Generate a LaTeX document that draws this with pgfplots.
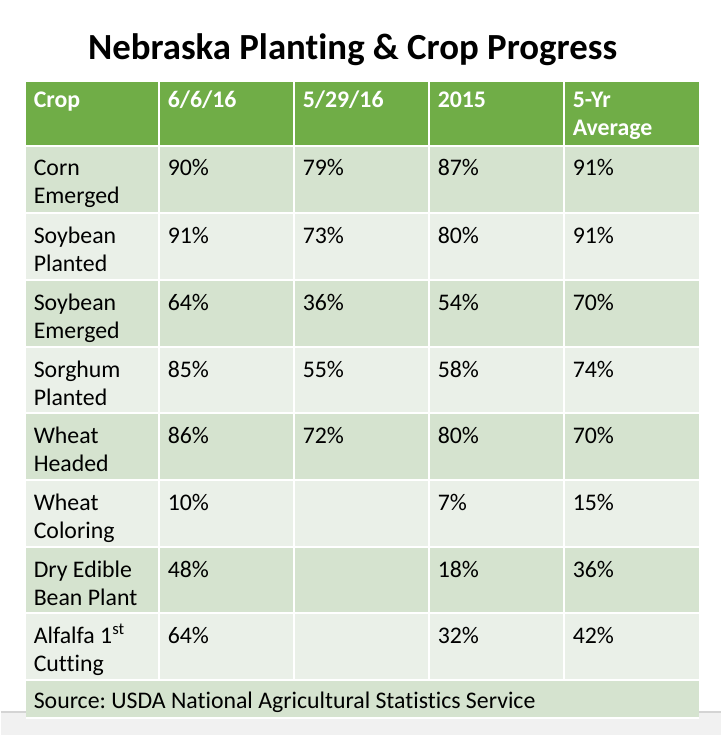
\documentclass[border=0pt]{standalone}
\usepackage{pgfplots}
\pgfplotsset{compat=1.18}
\usepackage{fontspec}
\setmainfont{Carlito}[Ligatures=NoCommon]
\frenchspacing
\definecolor{hdr}{HTML}{70AD47}
\definecolor{rowA}{HTML}{D5E3CF}
\definecolor{rowB}{HTML}{EAF0E8}
\definecolor{band}{HTML}{F1F1F1}
\definecolor{bandline}{HTML}{D4D4D4}
\begin{document}
\begin{tikzpicture}
\begin{axis}[width=720bp, height=735bp, scale only axis,
  xmin=0, xmax=720, ymin=0, ymax=735, y dir=reverse,
  axis lines=none, clip=false,
  celltext/.style={draw=none, mark=none, nodes near coords, point meta=explicit symbolic,
     nodes near coords style={anchor=base west, inner sep=0pt, font=\fontsize{23.8bp}{28bp}\selectfont, text=black}},
  hdrtext/.style={draw=none, mark=none, nodes near coords, point meta=explicit symbolic,
     nodes near coords style={anchor=base west, inner sep=0pt, font=\fontsize{23.8bp}{28bp}\selectfont\bfseries, text=white}}]
% background band
\addplot[fill=band, draw=none] coordinates {(0,712) (720,712) (720,735) (0,735)};
\addplot[bandline, line width=1.2bp] coordinates {(0,712) (720,712)};
% header
\addplot[fill=hdr, draw=none] coordinates {(25,82) (698,82) (698,146) (25,146)};
% rows
\addplot[fill=rowA, draw=none] coordinates {(25,146) (698,146) (698,213) (25,213)};
\addplot[fill=rowB, draw=none] coordinates {(25,213) (698,213) (698,280) (25,280)};
\addplot[fill=rowA, draw=none] coordinates {(25,280) (698,280) (698,347) (25,347)};
\addplot[fill=rowB, draw=none] coordinates {(25,347) (698,347) (698,413) (25,413)};
\addplot[fill=rowA, draw=none] coordinates {(25,413) (698,413) (698,480) (25,480)};
\addplot[fill=rowB, draw=none] coordinates {(25,480) (698,480) (698,547) (25,547)};
\addplot[fill=rowA, draw=none] coordinates {(25,547) (698,547) (698,613) (25,613)};
\addplot[fill=rowB, draw=none] coordinates {(25,613) (698,613) (698,680) (25,680)};
\addplot[fill=rowA, draw=none] coordinates {(25,680) (698,680) (698,718) (25,718)};
% grid lines
\pgfplotsinvokeforeach{146,213,280,347,413,480,547,613,680}{
  \addplot[white, line width=2bp] coordinates {(25,#1) (698,#1)};
}
\pgfplotsinvokeforeach{158,293,428,563}{
  \addplot[white, line width=2bp] coordinates {(#1,82) (#1,680)};
}
\addplot[white, line width=1.5bp] coordinates {(25,718) (698,718)};
% title
\addplot[draw=none, mark=none, nodes near coords, point meta=explicit symbolic,
  nodes near coords style={anchor=base, inner sep=0pt, font=\fontsize{36.8bp}{42bp}\selectfont\bfseries, text=black}]
  coordinates {(352,60) [Nebraska Planting \& Crop Progress]};
% header text
\addplot[hdrtext] coordinates {(33,108) [Crop] (167,108) [6/6/16] (302,108) [5/29/16] (437,108) [2015] (572,108) [5-Yr] (572,136) [Average]};
% crop names
\addplot[celltext] coordinates {
 (33,176) [Corn] (33,204) [Emerged]
 (33,243) [Soybean] (33,271) [Planted]
 (33,310) [Soybean] (33,338) [Emerged]
 (33,377) [Sorghum] (33,405) [Planted]
 (33,443) [Wheat] (33,471) [Headed]
 (33,510) [Wheat] (33,538) [Coloring]
 (33,577) [Dry Edible] (33,605) [Bean Plant]
 (33,643) [Alfalfa 1\textsuperscript{st}] (33,671) [Cutting]
};
% 6/6/16
\addplot[celltext] coordinates {
 (167,176) [90\%] (167,243) [91\%] (167,310) [64\%] (167,377) [85\%]
 (167,443) [86\%] (167,510) [10\%] (167,577) [48\%] (167,643) [64\%]
};
% 5/29/16
\addplot[celltext] coordinates {
 (302,176) [79\%] (302,243) [73\%] (302,310) [36\%] (302,377) [55\%]
 (302,443) [72\%]
};
% 2015
\addplot[celltext] coordinates {
 (437,176) [87\%] (437,243) [80\%] (437,310) [54\%] (437,377) [58\%]
 (437,443) [80\%] (437,510) [7\%] (437,577) [18\%] (437,643) [32\%]
};
% 5-Yr Average
\addplot[celltext] coordinates {
 (572,176) [91\%] (572,243) [91\%] (572,310) [70\%] (572,377) [74\%]
 (572,443) [70\%] (572,510) [15\%] (572,577) [36\%] (572,643) [42\%]
};
% source
\addplot[celltext] coordinates {(33,708) [Source: USDA National Agricultural Statistics Service]};
\end{axis}
\path (current axis.south west) rectangle (current axis.north east);
\end{tikzpicture}
\end{document}
